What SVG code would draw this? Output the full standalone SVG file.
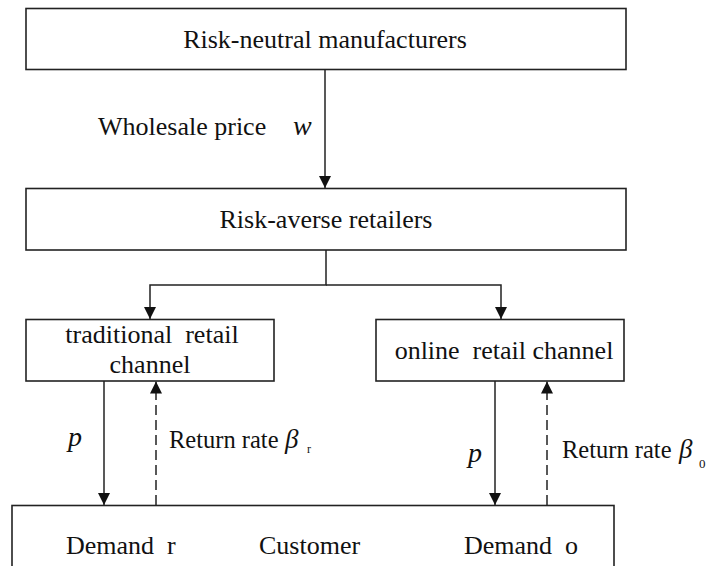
<svg xmlns="http://www.w3.org/2000/svg" width="710" height="566" viewBox="0 0 710 566">
<defs>
<marker id="ah" viewBox="0 0 12 12" refX="12" refY="6" markerWidth="12" markerHeight="12" markerUnits="userSpaceOnUse" orient="auto">
<path d="M0,0 L12,6 L0,12 Z" fill="#111"/>
</marker>
<style>
.box{fill:#fff;stroke:#222;stroke-width:1.6}
.t{font-size:26px;fill:#111}
.c{text-anchor:middle}
.i{font-style:italic}
.ln{fill:none;stroke:#222;stroke-width:1.5}
.dash{stroke-dasharray:10 5}
</style>
</defs>
<rect width="710" height="566" fill="#fff"/>
<g font-family="Liberation Serif, Times New Roman, serif">
<g id="manufacturers">
<rect class="box" x="26" y="8.5" width="600" height="61"/>
<text class="t c" x="325" y="48">Risk-neutral manufacturers</text>
</g>
<g id="retailers">
<rect class="box" x="26" y="188.5" width="600" height="61.5"/>
<text class="t c" x="326" y="228">Risk-averse retailers</text>
</g>
<g id="traditional">
<rect class="box" x="26" y="319.5" width="248" height="61.5"/>
<text class="t c" x="152" y="343" xml:space="preserve">traditional  retail</text>
<text class="t c" x="150" y="373">channel</text>
</g>
<g id="online">
<rect class="box" x="376" y="319.5" width="248" height="61.5"/>
<text class="t c" x="504" y="359" xml:space="preserve">online  retail channel</text>
</g>
<g id="customer">
<rect class="box" x="12" y="505.5" width="602" height="64"/>
<text class="t" x="66" y="554" xml:space="preserve">Demand  r</text>
<text class="t" x="259" y="554">Customer</text>
<text class="t" x="464" y="554" xml:space="preserve">Demand  o</text>
</g>
<g id="connectors">
<line class="ln" x1="325" y1="69.5" x2="325" y2="188" marker-end="url(#ah)"/>
<polyline class="ln" points="326,250 326,285 150,285 150,319" marker-end="url(#ah)"/>
<polyline class="ln" points="326,285 501,285 501,319" marker-end="url(#ah)"/>
<line class="ln" x1="104" y1="381" x2="104" y2="505" marker-end="url(#ah)"/>
<line class="ln dash" x1="156" y1="505" x2="156" y2="381.5" marker-end="url(#ah)"/>
<line class="ln" x1="495" y1="381" x2="495" y2="505" marker-end="url(#ah)"/>
<line class="ln dash" x1="547" y1="505" x2="547" y2="381.5" marker-end="url(#ah)"/>
</g>
<g id="labels">
<text class="t" x="98" y="135">Wholesale price</text>
<text class="t i" x="293" y="135" style="font-size:28px">w</text>
<text class="t i" x="68" y="446" style="font-size:28px">p</text>
<text class="t i" x="468" y="462" style="font-size:28px">p</text>
<text class="t" x="169" y="448" style="font-size:24.5px">Return rate</text>
<text class="t i" x="285" y="448" style="font-size:27px">β</text>
<text class="t" x="307" y="453" style="font-size:12px">r</text>
<text class="t" x="562" y="458" style="font-size:24.5px">Return rate</text>
<text class="t i" x="679" y="458" style="font-size:27px">β</text>
<text class="t" x="699" y="468" style="font-size:13px">0</text>
</g>
</g>
</svg>
